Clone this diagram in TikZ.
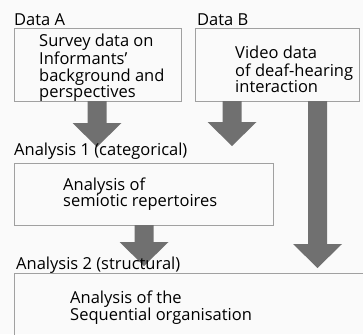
\documentclass[tikz,border=0pt]{standalone}
\usepackage{fontspec}
\setmainfont{Open Sans}
\usetikzlibrary{calc,positioning}
\definecolor{arrowgray}{RGB}{112,112,112}
\definecolor{boxgray}{RGB}{160,160,160}
\definecolor{paper}{RGB}{250,250,250}

\tikzset{
    databox/.style={draw=boxgray, line width=0.9pt, anchor=north west, inner sep=0pt, outer sep=0pt},
    boxtext/.style={anchor=base west, inner sep=0pt, font=\fontsize{16.5}{15.2}\selectfont},
    heading/.style={anchor=base west, inner sep=0pt, font=\fontsize{16.5}{15.2}\selectfont},
    blockarrow/.style={to path={
        ($(\tikztostart)+(-9.5,0)$) -- ($(\tikztotarget)+(-9.5,-24)$)
        -- ($(\tikztotarget)+(-24.5,-24)$) -- (\tikztotarget)
        -- ($(\tikztotarget)+(24.5,-24)$) -- ($(\tikztotarget)+(9.5,-24)$)
        -- ($(\tikztostart)+(9.5,0)$) -- cycle}}
}

\begin{document}
\begin{tikzpicture}[x=1pt,y=-1pt]
    \fill [paper] (0,0) rectangle (363,334);
    \clip (0,0) rectangle (363,334);

    % boxes
    \node [databox, minimum width=167, minimum height=73] (surveybox) at (14,28) {};
    \node [databox, minimum width=164, minimum height=73] (videobox) at (195,28) {};
    \node [databox, minimum width=259, minimum height=62] (semioticbox) at (14,163) {};
    \node [databox, minimum width=380, minimum height=100] (sequencebox) at (14,273) {};

    % arrow tips
    \coordinate (tip1) at (97,147);
    \coordinate (tip2) at (232,146);
    \coordinate (tip3) at (317.5,268);
    \coordinate (tip4) at (144,266);

    \fill [arrowgray] (surveybox.south -| tip1) to[blockarrow] (tip1);
    \fill [arrowgray] (videobox.south -| tip2) to[blockarrow] (tip2);
    \fill [arrowgray] (videobox.south -| tip3) to[blockarrow] (tip3);
    \fill [arrowgray] (semioticbox.south -| tip4) to[blockarrow] (tip4);

    % headings
    \node [heading] (dataA) at (14,26) {Data A};
    \node [heading] (dataB) at (197,26) {Data B};
    \node [heading] (analysisA) at (14,155) {Analysis 1 (categorical)};
    \node [heading] (analysisB) at (16,269) {Analysis 2 (structural)};

    % texts in the boxes
    \node [boxtext] (surveytext) at (39,47) {\begin{tabular}[t]{@{}l@{}}Survey data on\\Informants'\\background and\\perspectives\end{tabular}};
    \node [boxtext] (videotext) at (235,59) {\begin{tabular}[t]{@{}l@{}}Video data\\of deaf-hearing\\interaction\end{tabular}};
    \node [boxtext] (semiotictext) at (63,190) {\begin{tabular}[t]{@{}l@{}}Analysis of\\semiotic repertoires\end{tabular}};
    \node [boxtext] (sequencetext) at (70,303) {\begin{tabular}[t]{@{}l@{}}Analysis of the\\Sequential organisation\end{tabular}};
\end{tikzpicture}
\end{document}
